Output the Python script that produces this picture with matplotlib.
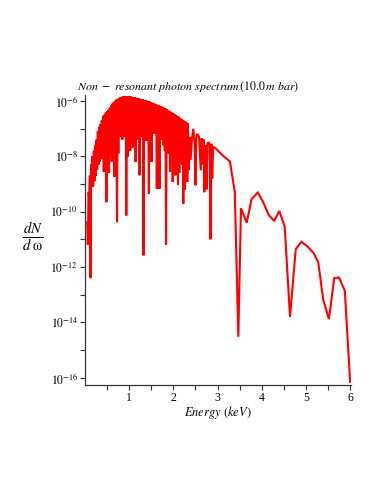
import matplotlib
matplotlib.use("Agg")
import matplotlib.pyplot as plt
from matplotlib.ticker import FixedLocator, FuncFormatter, NullFormatter
import numpy as np

plt.rcParams['mathtext.fontset'] = 'stix'
plt.rcParams['font.family'] = ['Liberation Serif', 'DejaVu Serif']

# Dense oscillating part: top energies and log10 values of tops / troughs
top_energy = [0.05, 0.08, 0.11, 0.14, 0.17, 0.20, 0.23, 0.26, 0.29, 0.32, 0.35, 0.38, 0.41, 0.44,
              0.47, 0.50, 0.53, 0.56, 0.59, 0.62, 0.65, 0.68, 0.71, 0.74, 0.77, 0.80, 0.83, 0.86,
              0.89, 0.92, 0.95, 0.98, 1.01, 1.04, 1.07, 1.10, 1.13, 1.16, 1.19, 1.22, 1.25, 1.28,
              1.31, 1.34, 1.37, 1.40, 1.43, 1.46, 1.49, 1.52, 1.55, 1.58, 1.61, 1.64, 1.67, 1.70,
              1.73, 1.76, 1.79, 1.82, 1.85, 1.88, 1.91, 1.94, 1.97, 2.00, 2.03, 2.06, 2.09, 2.12,
              2.15, 2.18, 2.21, 2.24, 2.27, 2.30, 2.33]
top_log = [-10.4, -9.3, -8.7, -8.3, -8.0, -7.8, -7.6, -7.4, -7.1, -6.95, -6.85, -6.7, -6.55, -6.5,
           -6.42, -6.38, -6.33, -6.25, -6.17, -6.1, -6.05, -6.0, -5.96, -5.93, -5.9, -5.88, -5.86, -5.84,
           -5.83, -5.83, -5.83, -5.83, -5.84, -5.85, -5.86, -5.87, -5.88, -5.89, -5.9, -5.91, -5.93, -5.94,
           -5.95, -5.97, -5.98, -6.0, -6.01, -6.03, -6.05, -6.07, -6.09, -6.11, -6.13, -6.15, -6.17, -6.19,
           -6.21, -6.23, -6.25, -6.28, -6.31, -6.34, -6.37, -6.4, -6.43, -6.46, -6.49, -6.52, -6.55, -6.58,
           -6.62, -6.65, -6.69, -6.72, -6.75, -6.78, -6.82]
trough_energy = [0.065, 0.095, 0.125, 0.155, 0.185, 0.215, 0.245, 0.275, 0.305, 0.335, 0.365, 0.395,
                 0.425, 0.455, 0.485, 0.515, 0.545, 0.575, 0.605, 0.635, 0.665, 0.695, 0.725, 0.755,
                 0.785, 0.815, 0.845, 0.875, 0.905, 0.935, 0.965, 0.995, 1.025, 1.055, 1.085, 1.115,
                 1.145, 1.175, 1.205, 1.235, 1.265, 1.295, 1.325, 1.355, 1.385, 1.415, 1.445, 1.475,
                 1.505, 1.535, 1.565, 1.595, 1.625, 1.655, 1.685, 1.715, 1.745, 1.775, 1.805, 1.835,
                 1.865, 1.895, 1.925, 1.955, 1.985, 2.015, 2.045, 2.075, 2.105, 2.135, 2.165, 2.195,
                 2.225, 2.255, 2.285, 2.315, 2.345]
trough_log = [-11.2, -9.5, -12.4, -9.0, -9.1, -8.9, -8.7, -8.5, -8.3, -8.2, -8.1, -8.0,
              -8.57, -8.0, -9.66, -7.9, -8.6, -7.9, -8.2, -7.8, -8.75, -7.8, -10.38, -7.9,
              -7.3, -7.2, -7.4, -7.3, -7.2, -10.14, -8.03, -7.6, -7.8, -7.5, -7.7, -7.6,
              -8.21, -7.4, -7.3, -8.69, -7.3, -7.2, -11.58, -7.3, -7.45, -7.2, -9.36, -7.3,
              -8.21, -7.2, -7.0, -7.2, -9.18, -7.3, -9.18, -7.4, -7.2, -7.6, -7.8, -11.2,
              -7.8, -7.9, -8.57, -7.9, -8.93, -8.0, -8.69, -8.0, -9.04, -8.6, -8.1, -8.3,
              -9.72, -9.22, -8.6, -8.93, -8.5]

# Slower tail part (energy keV, log10 dN/dw)
tail_energy = [2.37, 2.39, 2.42, 2.45, 2.48, 2.50, 2.52, 2.54, 2.58, 2.62, 2.64, 2.66, 2.69, 2.70,
               2.73, 2.75, 2.77, 2.80, 2.82, 2.84, 2.86, 2.88, 2.90, 2.98, 3.10, 3.28, 3.39, 3.47,
               3.53, 3.66, 3.77, 3.91, 4.03, 4.16, 4.28, 4.40, 4.52, 4.64, 4.77, 4.90, 5.03, 5.17,
               5.28, 5.39, 5.52, 5.64, 5.75, 5.88, 6.0]
tail_log = [-7.3, -8.14, -7.4, -7.01, -7.5, -9.05, -7.3, -7.19, -7.3, -8.51, -7.35, -8.3, -7.4, -9.3,
            -7.6, -9.2, -7.55, -7.49, -7.6, -11.0, -7.55, -8.8, -7.65, -7.75, -7.95, -8.19, -9.29, -14.52,
            -9.88, -10.40, -9.55, -9.31, -9.65, -10.13, -10.33, -9.98, -10.55, -13.80, -11.35, -11.09, -11.25, -11.49,
            -11.83, -13.17, -13.88, -12.40, -12.38, -12.86, -16.15]

energy = []
logv = []
for e1, v1, e2, v2 in zip(top_energy, top_log, trough_energy, trough_log):
    energy += [e1, e2]
    logv += [v1, v2]
energy += tail_energy
logv += tail_log
dnd = 10.0 ** np.array(logv)

fig = plt.figure(figsize=(3.82, 4.94), dpi=100)
ax = fig.add_axes([85/382, 109/494, 266/382, 290/494])
ax.plot(energy, dnd, color='#ff0000', lw=1.5, solid_joinstyle='miter')
ax.set_yscale('log')
ax.set_xlim(0, 6.02)
ax.set_ylim(10**-16.26, 10**-5.79)

major_exp = [-16, -14, -12, -10, -8, -6]
minor_exp = [-15, -13, -11, -9, -7]
ax.yaxis.set_major_locator(FixedLocator([10.0**k for k in major_exp]))
ax.yaxis.set_minor_locator(FixedLocator([10.0**k for k in minor_exp]))
ax.yaxis.set_major_formatter(FuncFormatter(lambda v, p: r'$10^{%d}$' % round(np.log10(v))))
ax.yaxis.set_minor_formatter(NullFormatter())
ax.xaxis.set_major_locator(FixedLocator([1, 2, 3, 4, 5, 6]))
ax.xaxis.set_minor_locator(FixedLocator([0.5, 1.5, 2.5, 3.5, 4.5, 5.5]))
ax.tick_params(which='both', direction='out', length=3.5, width=0.8, color='#333333',
               labelsize=8.5, pad=1.5)
for s in ['top', 'right']:
    ax.spines[s].set_visible(False)
for s in ['left', 'bottom']:
    ax.spines[s].set_color('#333333')
    ax.spines[s].set_linewidth(0.9)

fig.text(77/382, 1 - 87/494, r'$Non\ -\ resonant\ photon\ spectrum\,(10.0\,m\ bar)$',
         ha='left', va='center', fontsize=8.6)
fig.text(218/382, 1 - 412/494, r'$Energy\ (keV)$', ha='center', va='center', fontsize=9)
fig.text(33/382, 1 - 237/494, r'$\frac{dN}{d\ \mathrm{\omega}}$', ha='center', va='center', fontsize=15)

fig.savefig('out.png', dpi=100)
